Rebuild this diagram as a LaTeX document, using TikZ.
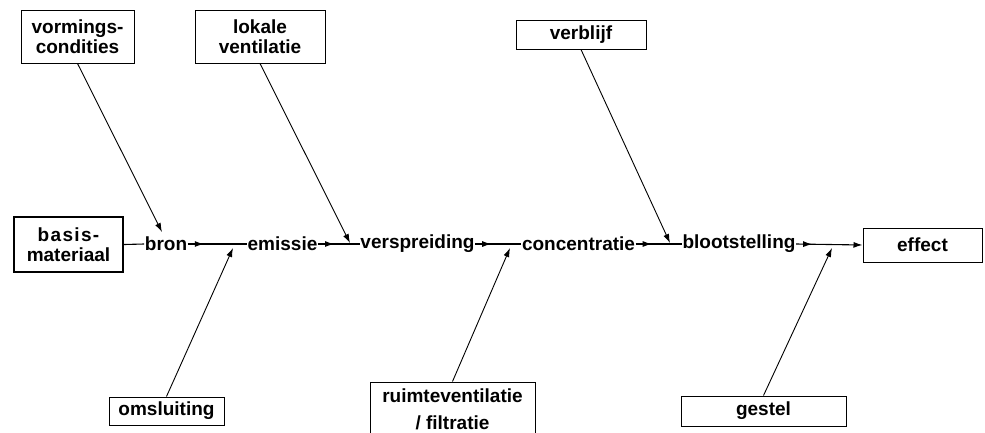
\documentclass[tikz,border=0pt]{standalone}
\usepackage{fontspec}
\setmainfont{Liberation Sans}
\usetikzlibrary{arrows.meta,decorations.markings}
\begin{document}
\begin{tikzpicture}[x=1pt,y=-1pt,
  every node/.style={font=\fontsize{19}{20}\selectfont\bfseries},
  lbl/.style={inner sep=0.5pt, anchor=center},
  box/.style={draw, line width=1pt, align=center, inner sep=0pt},
  tip/.style={-{Latex[length=9pt,width=6pt]}, line width=0.9pt},
  flow/.style={line width=1.1pt, postaction={decorate},
    decoration={markings, mark=at position 16pt with {\arrow{Latex[length=9pt,width=6pt]}}}},
]
\useasboundingbox (0,0) rectangle (985,432);

% boxes
\node[box, line width=2pt, minimum width=109pt, minimum height=55pt] (basis) at (68.5,244.5) {{\addfontfeature{LetterSpace=7}basis-}\\materiaal};
\node[box, minimum width=113pt, minimum height=53pt] (vorm) at (77.5,36.5) {vormings-\\condities};
\node[box, minimum width=130pt, minimum height=53pt] (lokale) at (260,36.5) {lokale\\ventilatie};
\node[box, minimum width=130pt, minimum height=29pt] (verblijf) at (581,34.5) {verblijf};
\node[box, minimum width=115pt, minimum height=28pt] (omsl) at (166.5,411) {omsluiting};
\node[box, minimum width=165pt, minimum height=55pt] (ruimte) at (452.5,409.5) {ruimteventilatie\\[7pt]/ filtratie};
\node[box, minimum width=165pt, minimum height=30pt] (gestel) at (763.5,411) {gestel};
\node[box, minimum width=119pt, minimum height=34pt] (effect) at (922.5,245) {effect};

% chain labels
\node[lbl] (bron) at (166,244) {bron};
\node[lbl] (emissie) at (282.5,244) {emissie};
\node[lbl] (versp) at (417.5,244) {verspreiding};
\node[lbl] (conc) at (578.5,244) {concentratie};
\node[lbl] (bloot) at (739,244) {blootstelling};

% junction points of side arrows
\coordinate (t1) at (162,232);
\coordinate (t2) at (350,243);
\coordinate (t3) at (670,243);
\coordinate (b1) at (233,248);
\coordinate (b2) at (510,248);
\coordinate (b3) at (832,248);

% main chain
\draw[line width=1.1pt] (basis.east) -- (bron.west);
\draw[flow] (bron.east) -- (emissie.west);
\draw[flow] (emissie.east) -- (versp.west);
\draw[flow] (versp.east) -- (conc.west);
\draw[flow] (conc.east) -- (bloot.west);
\draw[flow, -{Latex[length=9pt,width=6pt]}] (bloot.east) -- (effect.west);

% side arrows
\draw[tip] (vorm.south) -- (t1);
\draw[tip] (lokale.south) -- (t2);
\draw[tip] (verblijf.south) -- (t3);
\draw[tip] (omsl.north) -- (b1);
\draw[tip] (ruimte.north) -- (b2);
\draw[tip] (gestel.north) -- (b3);
\end{tikzpicture}
\end{document}
